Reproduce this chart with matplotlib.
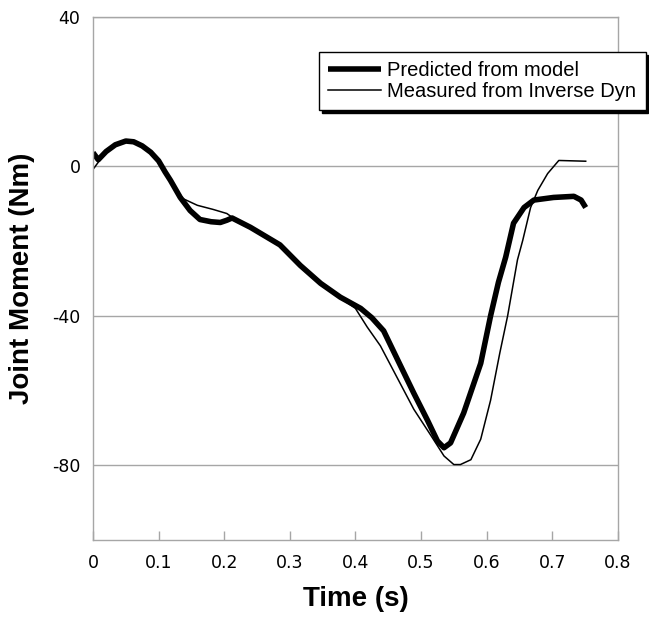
import matplotlib.pyplot as plt

plt.rcParams['axes.unicode_minus'] = False

# values
t_pred = [0.000, 0.008, 0.020, 0.034, 0.050, 0.062, 0.075, 0.088, 0.100, 0.110,
          0.118, 0.133, 0.148, 0.163, 0.180, 0.194, 0.204, 0.212, 0.240, 0.285,
          0.316, 0.347, 0.377, 0.408, 0.425, 0.443, 0.465, 0.489, 0.510, 0.525,
          0.535, 0.545, 0.565, 0.591, 0.606, 0.618, 0.629, 0.641, 0.657, 0.672,
          0.702, 0.733, 0.744, 0.751]
m_pred = [3.7, 1.8, 4.0, 5.8, 6.8, 6.6, 5.5, 3.8, 1.5, -1.5,
          -3.7, -8.3, -11.8, -14.2, -14.8, -15.0, -14.4, -13.8, -16.3, -21.0,
          -26.5, -31.3, -35.0, -38.0, -40.5, -44.0, -52.0, -60.7, -68.0, -73.5,
          -75.3, -74.0, -66.0, -52.7, -40.0, -31.0, -24.3, -15.2, -11.0, -9.0,
          -8.3, -8.0, -9.0, -11.0]

t_meas = [0.000, 0.010, 0.020, 0.034, 0.050, 0.062, 0.075, 0.088, 0.100, 0.110,
          0.122, 0.137, 0.159, 0.183, 0.204, 0.220, 0.240, 0.285, 0.316, 0.347,
          0.377, 0.400, 0.418, 0.438, 0.465, 0.489, 0.515, 0.535, 0.550, 0.560,
          0.576, 0.591, 0.606, 0.620, 0.632, 0.647, 0.655, 0.667, 0.678, 0.693,
          0.710, 0.751]
m_meas = [-0.8, 1.6, 4.0, 5.8, 6.8, 6.6, 5.5, 3.8, 1.0, -2.0,
          -4.8, -8.6, -10.4, -11.5, -12.6, -14.6, -16.5, -21.2, -26.5, -31.5,
          -35.2, -38.0, -43.0, -48.0, -57.0, -65.0, -72.0, -77.5, -79.8, -79.8,
          -78.5, -73.0, -62.6, -50.0, -40.0, -25.0, -19.8, -11.0, -6.4, -1.9,
          1.6, 1.4]

x_ticks = [0, 0.1, 0.2, 0.3, 0.4, 0.5, 0.6, 0.7, 0.8]
x_labels = ['0', '0.1', '0.2', '0.3', '0.4', '0.5', '0.6', '0.7', '0.8']
y_ticks = [40, 0, -40, -80]

grey = '#a6a6a6'

fig = plt.figure(figsize=(6.49, 6.21), dpi=100)
ax = fig.add_axes([0.1433, 0.1304, 0.8087, 0.8422])

ax.plot(t_pred, m_pred, color='black', lw=4.0, solid_joinstyle='round',
        solid_capstyle='butt', label='Predicted from model')
ax.plot(t_meas, m_meas, color='black', lw=1.1, label='Measured from Inverse Dyn')

ax.set_xlim(0, 0.8)
ax.set_ylim(-100, 40)
ax.set_xticks(x_ticks)
ax.set_xticklabels(x_labels)
ax.set_yticks(y_ticks)
ax.yaxis.grid(True, color=grey, lw=1)
ax.set_axisbelow(True)

for s in ax.spines.values():
    s.set_color(grey)
    s.set_linewidth(1)

ax.tick_params(axis='x', direction='in', length=6.5, width=1, color=grey,
               pad=10, labelsize=12.5)
ax.tick_params(axis='y', length=0, pad=9, labelsize=12.5)
for lab in ax.get_xticklabels() + ax.get_yticklabels():
    lab.set_family('DejaVu Sans')

ax.set_xlabel('Time (s)', fontsize=20, fontweight='bold',
              family='Liberation Sans', labelpad=10)
ax.set_ylabel('Joint Moment (Nm)', fontsize=20, fontweight='bold',
              family='Liberation Sans', labelpad=12)

leg = ax.legend(loc='upper left', bbox_to_anchor=(319 / 649, 1 - 52 / 621),
                bbox_transform=fig.transFigure, frameon=True, fancybox=False,
                shadow={'color': 'black', 'alpha': 1}, edgecolor='black',
                framealpha=1, borderaxespad=0, handlelength=2.65,
                handletextpad=0.3, borderpad=0.45, labelspacing=0.1,
                prop={'family': 'Liberation Sans', 'size': 14.5})
leg.get_frame().set_linewidth(1)

fig.savefig('out.png', dpi=100)
